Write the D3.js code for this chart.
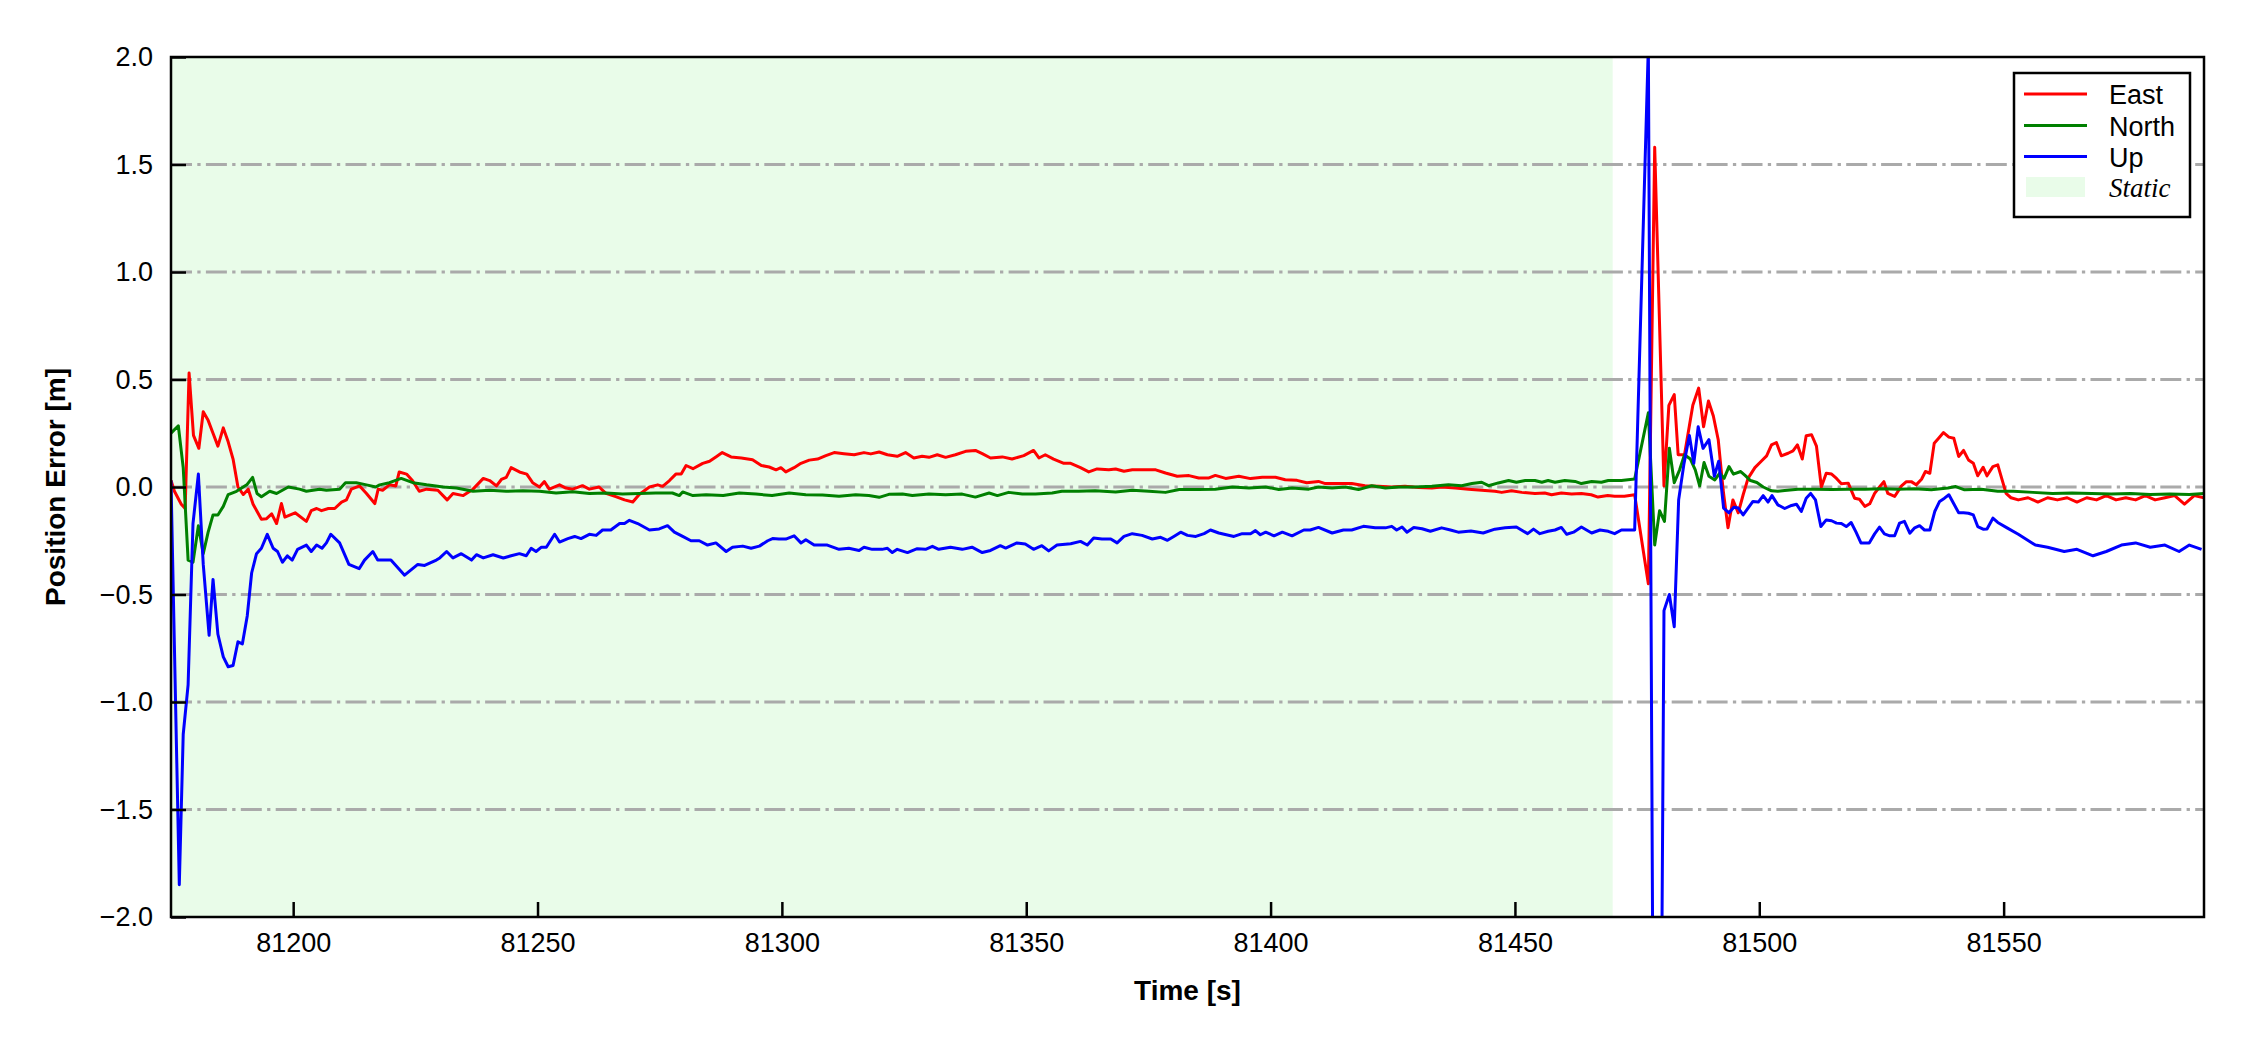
<!DOCTYPE html>
<html><head><meta charset="utf-8">
<script src="https://cdn.jsdelivr.net/npm/d3@7"></script>
<style>body{margin:0;background:#fff}svg{display:block}</style>
</head><body>
<svg id="c" width="2250" height="1050"></svg>
<script>
const xTicks = [81200, 81250, 81300, 81350, 81400, 81450, 81500, 81550];
const yTicks = [-2.0, -1.5, -1.0, -0.5, 0.0, 0.5, 1.0, 1.5, 2.0];
const seriesNames = ["East", "North", "Up"];
const staticSpan = [81175, 81470];

const eastT = [81175,81175.7,81177.1,81177.9,81178.7,81179.6,81180.7,81181.6,81182.6,81183.6,81184.6,81185.7,81186.7,81187.7,81188.7,81189.8,81190.8,81191.8,81193.5,81194.5,81195.6,81196.6,81197.6,81198.3,81200.4,81202.7,81203.7,81204.8,81205.8,81207.2,81208.5,81209.9,81210.9,81211.9,81213.6,81215,81216.7,81217.4,81218.3,81219.7,81221,81221.7,81223.2,81224.4,81225.8,81227.3,81229.6,81231.5,81232.7,81234.8,81236.8,81238.9,81240.2,81241.6,81242.6,81243.6,81244.6,81246.3,81247.8,81249,81250.4,81251.4,81252.4,81254.5,81255.8,81257.2,81259.2,81260.6,81262.6,81264,81266,81267.8,81269.5,81270.8,81272.9,81274.6,81275.6,81277,81278.3,81279.4,81280.4,81281.8,81283.8,81285.2,81286.5,81287.8,81289.6,81291.7,81294,81295.8,81297.4,81298.8,81299.8,81300.8,81302.5,81303.9,81305.6,81307.3,81309,81310.7,81312.7,81314.8,81316.8,81318.2,81319.9,81321.6,81323.6,81325.3,81327,81328.7,81330.1,81331.8,81333.5,81335.5,81337.6,81339.6,81341,81342.7,81345.1,81347.1,81349.5,81351.5,81352.6,81353.9,81355.6,81357.7,81359.1,81361.1,81362.8,81364.5,81366.9,81368.3,81370,81371.7,81374.4,81376.5,81378.5,81380.9,81383.3,81385.3,81387.4,81388.7,81390.8,81393.5,81395.9,81398.3,81401,81403,81405.4,81407.4,81409.8,81411.2,81413.9,81416.6,81419.3,81422.1,81424.8,81427.5,81430.3,81433,81435,81437.8,81440.5,81443.2,81445.9,81447.3,81449.3,81451.4,81454.1,81456.1,81457.5,81459.5,81461.6,81463.6,81465.6,81467,81469,81470.4,81472.4,81474.5,81477.3,81478.6,81480.5,81481.5,81482.6,81483.4,81484.7,81486.4,81487.6,81488.6,81489.6,81490.6,81491.6,81492.6,81493.6,81494.6,81495.7,81496.7,81497.7,81499.1,81500.4,81501.5,81502.5,81503.5,81504.5,81505.9,81506.9,81507.8,81508.8,81509.6,81510.7,81511.7,81512.7,81513.7,81514.8,81515.8,81516.8,81518.2,81519.5,81520.5,81521.6,81522.6,81523.6,81524.6,81525.5,81526.3,81527.7,81529.1,81530.1,81531.1,81532.1,81533.2,81534,81534.9,81535.8,81536.7,81537.7,81538.8,81539.8,81540.8,81541.8,81542.8,81543.8,81544.7,81545.8,81546.6,81547.8,81548.8,81550.5,81551.5,81553,81555,81557,81559,81561,81563,81565,81567,81569,81571,81573,81575,81577,81579,81581,81583,81585,81587,81589,81591];
const eastV = [0.03,-0.02,-0.08,-0.10,0.53,0.24,0.18,0.35,0.31,0.25,0.19,0.275,0.21,0.13,0.0,-0.035,-0.01,-0.08,-0.15,-0.148,-0.125,-0.17,-0.077,-0.14,-0.12,-0.16,-0.11,-0.10,-0.11,-0.10,-0.10,-0.07,-0.06,-0.01,0.005,-0.03,-0.077,-0.01,-0.015,0.01,0.005,0.07,0.06,0.03,-0.02,-0.01,-0.015,-0.06,-0.03,-0.04,-0.01,0.04,0.03,0.005,0.035,0.045,0.09,0.07,0.06,0.02,0.0,0.025,-0.01,0.01,-0.005,-0.01,0.006,-0.01,0.0,-0.03,-0.045,-0.06,-0.07,-0.035,0.0,0.01,0.003,0.03,0.06,0.06,0.10,0.085,0.11,0.12,0.14,0.16,0.14,0.135,0.127,0.10,0.093,0.08,0.09,0.07,0.09,0.11,0.125,0.13,0.146,0.16,0.155,0.15,0.16,0.154,0.163,0.15,0.143,0.16,0.135,0.143,0.138,0.15,0.138,0.15,0.166,0.17,0.155,0.135,0.14,0.13,0.146,0.17,0.135,0.15,0.13,0.11,0.11,0.09,0.07,0.084,0.08,0.084,0.073,0.08,0.08,0.08,0.065,0.05,0.053,0.042,0.042,0.054,0.04,0.05,0.039,0.045,0.045,0.034,0.031,0.02,0.026,0.016,0.016,0.016,0.006,0.003,0.0,0.003,-0.002,-0.005,0.0,-0.005,-0.01,-0.015,-0.02,-0.025,-0.017,-0.025,-0.03,-0.028,-0.036,-0.028,-0.033,-0.03,-0.036,-0.047,-0.04,-0.043,-0.043,-0.036,-0.45,1.58,0.005,0.38,0.43,0.15,0.15,0.38,0.46,0.28,0.40,0.33,0.22,-0.013,-0.19,-0.06,-0.12,-0.036,0.04,0.09,0.12,0.145,0.196,0.207,0.145,0.157,0.168,0.196,0.13,0.238,0.243,0.19,0.0,0.064,0.06,0.04,0.015,0.018,-0.052,-0.057,-0.09,-0.078,-0.03,0.0,0.025,-0.03,-0.044,0.005,0.025,0.025,0.01,0.036,0.072,0.064,0.204,0.227,0.253,0.232,0.227,0.142,0.17,0.126,0.11,0.052,0.092,0.052,0.095,0.103,-0.03,-0.05,-0.06,-0.05,-0.07,-0.05,-0.06,-0.05,-0.07,-0.05,-0.06,-0.04,-0.06,-0.05,-0.06,-0.04,-0.06,-0.05,-0.04,-0.08,-0.04,-0.05];

const northT = [81175,81176.5,81177.5,81178.5,81179.5,81180.6,81181.6,81182.6,81183.6,81184.6,81185.7,81186.7,81188.4,81190.5,81191.7,81192.6,81193.5,81195.2,81196.6,81199,81201.3,81202.7,81205.4,81206.8,81209.5,81210.7,81212.9,81215,81216.9,81217.7,81219.7,81222.1,81224.5,81227.3,81230.7,81233.4,81236.8,81240.2,81243.6,81247,81250.4,81253.8,81257.2,81260.6,81264,81267.4,81270.8,81274.2,81277.6,81279,81279.7,81281.8,81284.5,81288,81291.3,81294.7,81298,81301.5,81304.9,81308.3,81311.7,81315.1,81317.8,81319.9,81321.9,81324.7,81326.7,81330.1,81333.5,81336.9,81339.6,81342.4,81344.1,81346.4,81349.2,81351.9,81355.3,81357.3,81360.7,81364.1,81368.3,81371.7,81375.1,81378.5,81381.3,81385.3,81388.7,81392.2,81395.6,81399,81401.7,81404.4,81407.8,81409.8,81412.6,81415.3,81418,81420.7,81423.5,81426.2,81429.6,81433,81436.4,81439.1,81441.2,81443.2,81444.6,81446.6,81448.7,81450.3,81452.1,81454.1,81455.5,81456.8,81458.2,81460.2,81462.3,81463.6,81465.7,81467.7,81469.1,81471.8,81474.5,81477.3,81478.6,81479.6,81480.6,81481.6,81482.6,81483.7,81484.7,81485.9,81486.9,81487.8,81488.7,81489.7,81490.9,81491.9,81492.8,81493.8,81494.7,81496.2,81497.2,81498.2,81499.5,81500.8,81502.5,81503.8,81505.2,81507.9,81511.3,81514.8,81518.2,81521.6,81525,81528.4,81531.8,81535.2,81538.6,81540.2,81542,81545.4,81548.8,81552,81556,81560,81564,81568,81572,81576,81580,81584,81588,81591];
const northV = [0.25,0.285,0.09,-0.34,-0.35,-0.18,-0.31,-0.21,-0.13,-0.13,-0.09,-0.035,-0.02,0.01,0.045,-0.03,-0.045,-0.02,-0.03,0.0,-0.01,-0.02,-0.01,-0.015,-0.01,0.02,0.02,0.01,0.0,0.01,0.02,0.04,0.02,0.01,0.0,-0.005,-0.02,-0.015,-0.02,-0.017,-0.02,-0.028,-0.022,-0.03,-0.028,-0.033,-0.03,-0.028,-0.028,-0.04,-0.023,-0.04,-0.036,-0.04,-0.028,-0.033,-0.04,-0.028,-0.036,-0.037,-0.043,-0.036,-0.04,-0.048,-0.034,-0.033,-0.04,-0.033,-0.036,-0.033,-0.047,-0.028,-0.04,-0.025,-0.033,-0.033,-0.028,-0.02,-0.02,-0.017,-0.023,-0.015,-0.02,-0.025,-0.012,-0.012,-0.01,0.0,-0.005,0.0,-0.012,-0.005,-0.01,0.0,-0.005,0.0,-0.012,0.006,-0.005,0.0,0.0,0.003,0.01,0.006,0.016,0.022,0.006,0.019,0.03,0.022,0.03,0.03,0.022,0.03,0.022,0.03,0.026,0.016,0.026,0.022,0.03,0.03,0.037,0.345,-0.27,-0.11,-0.16,0.18,0.02,0.08,0.15,0.13,0.08,0.005,0.114,0.05,0.033,0.064,0.04,0.095,0.06,0.072,0.052,0.03,0.021,0.0,-0.018,-0.02,-0.016,-0.01,-0.01,-0.012,-0.01,-0.01,-0.008,-0.01,-0.008,-0.013,-0.005,0.002,-0.013,-0.01,-0.02,-0.02,-0.025,-0.03,-0.028,-0.03,-0.032,-0.03,-0.035,-0.032,-0.035,-0.03];

const upT = [81175,81176.7,81177.5,81178.5,81179.5,81180.6,81181.6,81182.8,81183.6,81184.6,81185.7,81186.7,81187.7,81188.7,81189.6,81190.6,81191.5,81192.5,81193.5,81194.7,81195.9,81196.8,81197.8,81198.8,81199.8,81200.9,81202.7,81203.7,81204.8,81205.9,81206.8,81207.7,81209.5,81211.4,81213.5,81214.6,81216.3,81217.3,81220,81222.8,81225.5,81226.9,81229.3,81230,81231.4,81232.7,81234.4,81236.5,81237.5,81238.9,81240.9,81243,81244.6,81246.3,81247.7,81248.7,81249.7,81250.8,81251.8,81253.5,81254.5,81256.2,81257.6,81258.9,81260.6,81262,81263.3,81265,81266.8,81267.8,81268.8,81270.5,81272.9,81274.9,81276.6,81278,81279.7,81281.4,81283.1,81284.8,81286.5,81288.6,81289.9,81292,81293.7,81295.4,81297.1,81298.1,81299.4,81300.8,81302.5,81303.9,81304.9,81306.6,81309.3,81311.7,81313.7,81315.8,81316.8,81318.5,81320.5,81321.6,81322.6,81323.6,81325.7,81327.7,81329.4,81330.8,81332.1,81334.5,81336.9,81338.9,81341,81342.7,81344.7,81345.8,81348.1,81349.8,81351.5,81353.2,81354.6,81356.3,81359.1,81361.1,81362.5,81363.8,81365.5,81367.3,81368.6,81370,81371.7,81373.7,81375.8,81377.5,81378.9,81380.2,81381.6,81383,81384.7,81386.4,81387.7,81389.4,81392.5,81394.2,81395.9,81396.9,81397.9,81399,81400.7,81402.4,81404.4,81406.8,81408.1,81409.8,81412.6,81414.9,81416.6,81419,81421.4,81423.5,81424.8,81425.8,81426.9,81427.9,81429.3,81431,81432.7,81435,81436.8,81438.4,81441,81443.5,81445.9,81448,81450.3,81452.6,81453.8,81455.1,81456.8,81458.2,81459.5,81460.6,81462,81463.6,81465.7,81467.4,81469.1,81470.4,81471.8,81474.5,81477.3,81479,81480.5,81481.6,81482.6,81483.5,81484.6,81485.7,81486.6,81487.5,81488.5,81489.7,81490.8,81491.7,81492.7,81493.8,81494.8,81495.7,81496.7,81497.7,81498.7,81499.8,81500.8,81501.8,81502.6,81503.8,81505.2,81506.6,81507.6,81508.6,81509.6,81510.5,81511.5,81512.6,81513.7,81514.8,81515.8,81516.8,81517.8,81518.8,81519.8,81520.8,81522.5,81523.6,81524.6,81525.6,81526.7,81527.7,81528.7,81529.7,81530.8,81531.8,81532.8,81533.8,81534.9,81535.9,81536.9,81537.9,81538.8,81539.8,81540.8,81541.8,81542.8,81543.8,81544.7,81545.8,81546.6,81547.8,81548.8,81550.7,81553,81556.5,81559,81562.4,81565,81568.3,81571,81574.1,81577,81580,81583,81585.9,81588,81590.5];
const upV = [0.03,-1.85,-1.15,-0.92,-0.17,0.06,-0.36,-0.69,-0.43,-0.685,-0.79,-0.836,-0.83,-0.72,-0.73,-0.60,-0.40,-0.31,-0.285,-0.22,-0.285,-0.30,-0.35,-0.32,-0.34,-0.29,-0.27,-0.30,-0.27,-0.285,-0.26,-0.22,-0.26,-0.36,-0.38,-0.34,-0.30,-0.34,-0.34,-0.41,-0.36,-0.365,-0.34,-0.33,-0.30,-0.33,-0.31,-0.34,-0.315,-0.33,-0.315,-0.33,-0.32,-0.31,-0.32,-0.285,-0.30,-0.28,-0.28,-0.22,-0.256,-0.24,-0.23,-0.24,-0.22,-0.225,-0.20,-0.20,-0.17,-0.17,-0.155,-0.17,-0.20,-0.195,-0.18,-0.21,-0.23,-0.25,-0.25,-0.27,-0.26,-0.30,-0.28,-0.275,-0.285,-0.275,-0.25,-0.24,-0.242,-0.242,-0.227,-0.26,-0.245,-0.27,-0.27,-0.29,-0.285,-0.295,-0.28,-0.29,-0.29,-0.285,-0.305,-0.29,-0.305,-0.287,-0.29,-0.276,-0.29,-0.28,-0.29,-0.28,-0.305,-0.295,-0.273,-0.284,-0.26,-0.265,-0.29,-0.273,-0.297,-0.27,-0.264,-0.253,-0.27,-0.237,-0.242,-0.242,-0.26,-0.23,-0.217,-0.225,-0.242,-0.234,-0.248,-0.23,-0.21,-0.225,-0.23,-0.217,-0.20,-0.214,-0.23,-0.217,-0.217,-0.203,-0.222,-0.21,-0.227,-0.21,-0.227,-0.20,-0.20,-0.188,-0.214,-0.20,-0.20,-0.183,-0.19,-0.19,-0.183,-0.20,-0.186,-0.21,-0.188,-0.194,-0.206,-0.19,-0.20,-0.21,-0.205,-0.214,-0.196,-0.19,-0.186,-0.217,-0.196,-0.217,-0.206,-0.20,-0.188,-0.22,-0.21,-0.186,-0.214,-0.20,-0.206,-0.217,-0.20,-0.20,2.05,-6.0,-0.575,-0.5,-0.65,-0.06,0.11,0.24,0.11,0.28,0.18,0.22,0.05,0.12,-0.098,-0.12,-0.094,-0.098,-0.13,-0.098,-0.067,-0.07,-0.04,-0.07,-0.04,-0.083,-0.10,-0.086,-0.08,-0.114,-0.052,-0.03,-0.06,-0.184,-0.153,-0.157,-0.168,-0.17,-0.184,-0.165,-0.21,-0.26,-0.26,-0.218,-0.187,-0.218,-0.227,-0.227,-0.168,-0.16,-0.215,-0.19,-0.18,-0.2,-0.2,-0.114,-0.067,-0.052,-0.036,-0.078,-0.12,-0.12,-0.122,-0.13,-0.184,-0.196,-0.195,-0.145,-0.165,-0.19,-0.22,-0.27,-0.28,-0.30,-0.29,-0.32,-0.30,-0.27,-0.26,-0.28,-0.27,-0.30,-0.27,-0.29];

const W = 2250, H = 1050;
const m = {left: 171, right: 46, top: 57, bottom: 133};
const pw = W - m.left - m.right, ph = H - m.top - m.bottom;
const svg = d3.select("#c");
const x = d3.scaleLinear().domain([81175, 81591]).range([m.left, m.left + pw]);
const y = d3.scaleLinear().domain([-2, 2]).range([m.top + ph, m.top]);
const font = "'Liberation Sans', Arial, sans-serif";
const fs = 27;

svg.append("defs").append("clipPath").attr("id", "pc")
  .append("rect").attr("x", m.left).attr("y", m.top).attr("width", pw).attr("height", ph);

// static span
svg.append("rect").attr("x", x(staticSpan[0])).attr("y", m.top)
  .attr("width", x(staticSpan[1]) - x(staticSpan[0])).attr("height", ph)
  .attr("fill", "#90ee90").attr("fill-opacity", 0.2);

// grid
svg.append("g").selectAll("line").data(yTicks.filter(v => v > -2 && v < 2)).join("line")
  .attr("x1", m.left).attr("x2", m.left + pw)
  .attr("y1", d => y(d)).attr("y2", d => y(d))
  .attr("stroke", "#aaaaaa").attr("stroke-width", 3)
  .attr("stroke-dasharray", "21,5.3,3.3,5.3");

const colors = {East: "#ff0000", North: "#008000", Up: "#0000ff"};
const series = [
  {name: "East", t: eastT, v: eastV},
  {name: "North", t: northT, v: northV},
  {name: "Up", t: upT, v: upV}
];
const line = d3.line().x(d => x(d[0])).y(d => y(d[1]));
const lg = svg.append("g").attr("clip-path", "url(#pc)");
series.forEach(s => {
  lg.append("path").datum(s.t.map((t, i) => [t, s.v[i]]))
    .attr("d", line).attr("fill", "none")
    .attr("stroke", colors[s.name]).attr("stroke-width", 3)
    .attr("stroke-linejoin", "round");
});

// axes (inward ticks)
const xAxis = d3.axisBottom(x).tickValues(xTicks).tickFormat(d3.format("d"))
  .tickSizeInner(-15).tickSizeOuter(0).tickPadding(16);
const yAxis = d3.axisLeft(y).tickValues(yTicks).tickFormat(d3.format(".1f"))
  .tickSizeInner(-15).tickSizeOuter(0).tickPadding(18);
const gx = svg.append("g").attr("transform", `translate(0,${m.top + ph})`).call(xAxis);
const gy = svg.append("g").attr("transform", `translate(${m.left},0)`).call(yAxis);
[gx, gy].forEach(g => {
  g.select(".domain").remove();
  g.selectAll(".tick line").attr("stroke", "#000").attr("stroke-width", 2.5);
  g.selectAll(".tick text").attr("font-family", font).attr("font-size", fs).attr("fill", "#000");
});

// frame
svg.append("rect").attr("x", m.left).attr("y", m.top).attr("width", pw).attr("height", ph)
  .attr("fill", "none").attr("stroke", "#000").attr("stroke-width", 2.5);

// axis labels
svg.append("text").attr("x", m.left + pw / 2).attr("y", 1000).attr("text-anchor", "middle")
  .attr("font-family", font).attr("font-weight", "bold").attr("font-size", 28).text("Time [s]");
svg.append("text").attr("transform", `translate(65,${m.top + ph / 2}) rotate(-90)`)
  .attr("text-anchor", "middle").attr("font-family", font).attr("font-weight", "bold")
  .attr("font-size", 28).text("Position Error [m]");

// legend
const lgd = svg.append("g");
lgd.append("rect").attr("x", 2014).attr("y", 73).attr("width", 176).attr("height", 144)
  .attr("fill", "#fff").attr("stroke", "#000").attr("stroke-width", 2.5);
const rows = [94, 125.5, 156.5];
seriesNames.forEach((n, i) => {
  lgd.append("line").attr("x1", 2024).attr("x2", 2087).attr("y1", rows[i]).attr("y2", rows[i])
    .attr("stroke", colors[n]).attr("stroke-width", 3);
  lgd.append("text").attr("x", 2109).attr("y", rows[i] + 10).attr("font-family", font)
    .attr("font-size", 27).text(n);
});
lgd.append("rect").attr("x", 2026).attr("y", 177).attr("width", 59).attr("height", 20)
  .attr("fill", "#90ee90").attr("fill-opacity", 0.2);
lgd.append("text").attr("x", 2109).attr("y", 197).attr("font-family", "'Liberation Serif', 'Times New Roman', serif")
  .attr("font-style", "italic").attr("font-size", 27).text("Static");
</script>
</body></html>
